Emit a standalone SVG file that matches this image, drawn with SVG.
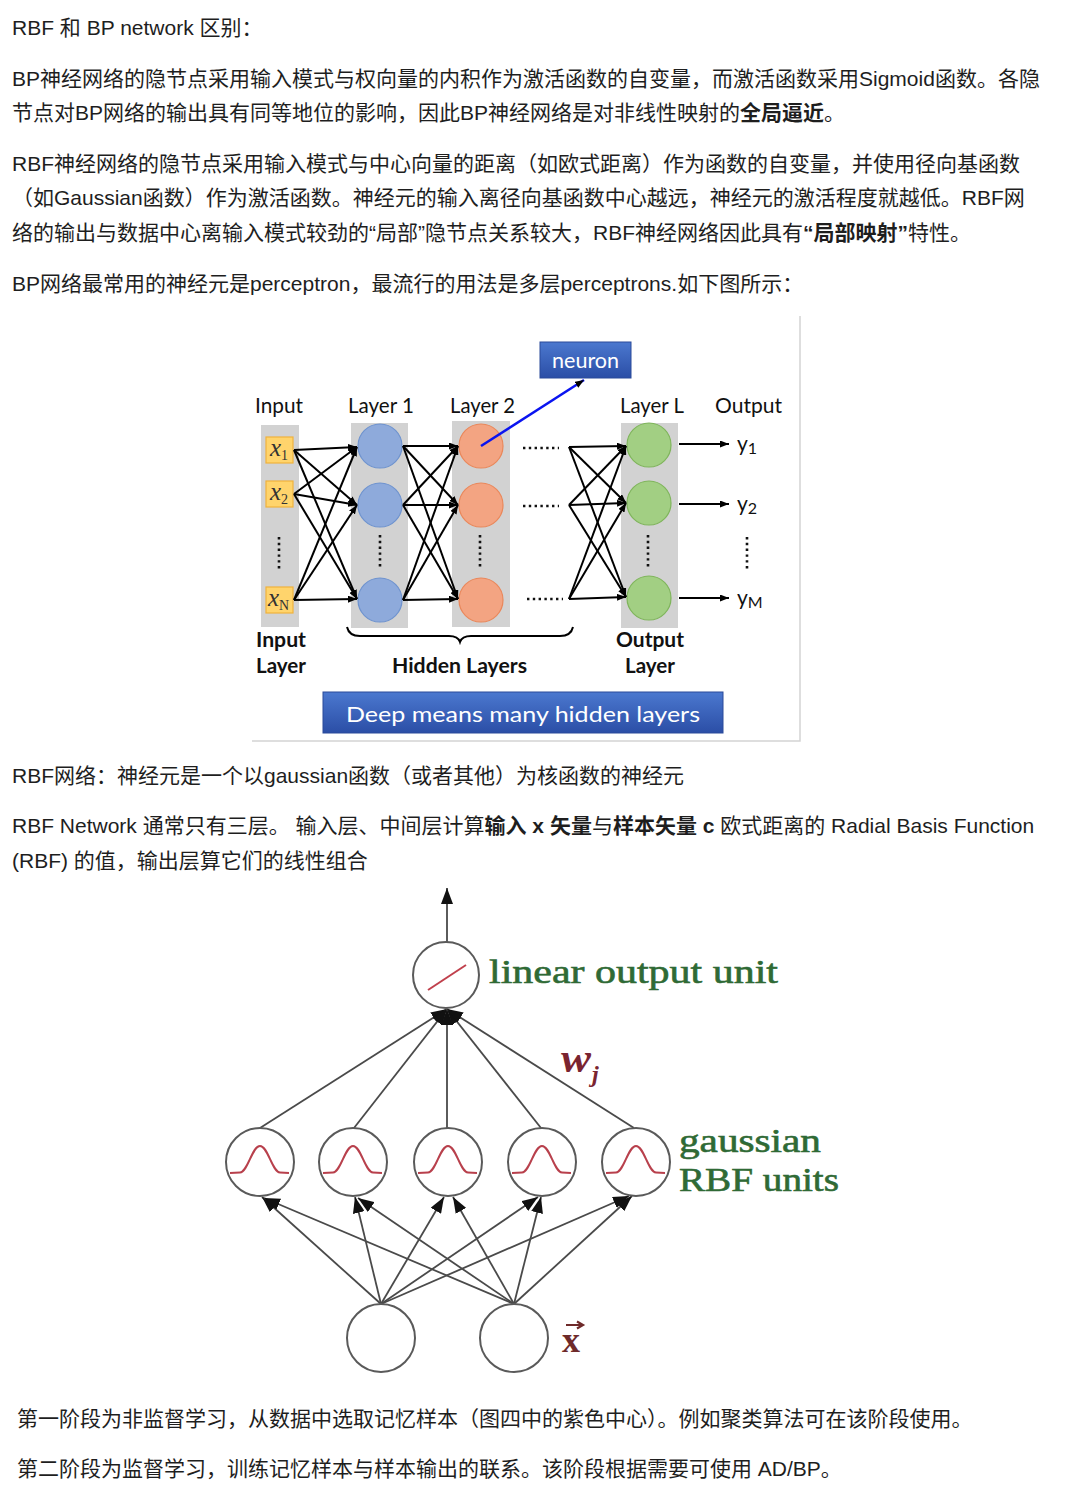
<svg xmlns="http://www.w3.org/2000/svg" width="1078" height="1504" viewBox="0 0 1078 1504">
<style>
.p{font-family:"Liberation Sans","Noto Sans CJK SC",sans-serif;font-size:21px;fill:#1e1e1e}
.b{font-weight:bold}
.cal{font-family:Lato,"Open Sans",sans-serif;font-size:21px;fill:#111}
.calb{font-family:Lato,"Open Sans",sans-serif;font-size:21px;font-weight:bold;fill:#111}
.bar{fill:#d2d2d2}
.inbox{fill:#ffd46c;stroke:#f0b23c;stroke-width:1.2}
.xlab{font-family:"Liberation Serif",serif;font-style:italic;font-size:25px;fill:#333}
.sub{font-family:"Liberation Serif",serif;font-size:14px;fill:#333;font-style:normal}
.blue{fill:#8eaadb;stroke:#6e93cf;stroke-width:1.2}
.orange{fill:#f3a482;stroke:#ea875a;stroke-width:1.2}
.green{fill:#a2cf83;stroke:#7fb55b;stroke-width:1.2}
.bpc line{stroke:#000;stroke-width:2;marker-end:url(#ah)}
.dotv{stroke:#111;stroke-width:2.6;stroke-dasharray:2.4 3.4}
.doth{stroke:#111;stroke-width:2.6;stroke-dasharray:2.4 3.4}
.rc{fill:#fff;stroke:#5a5a5a;stroke-width:2}
.rl line{stroke:#4a4a4a;stroke-width:1.8;marker-end:url(#rah)}
.gl{font-family:"Liberation Serif",serif;font-size:33px;fill:#2f6a35;stroke:#2f6a35;stroke-width:0.6}
</style>
<defs>
<marker id="ah" markerUnits="userSpaceOnUse" markerWidth="9" markerHeight="7" refX="9" refY="3.5" orient="auto"><path d="M0,0 L9,3.5 L0,7 z" fill="#000"/></marker>
<marker id="rah" markerUnits="userSpaceOnUse" markerWidth="16" markerHeight="12" refX="16" refY="6" orient="auto"><path d="M0,0 L16,6 L0,12 z" fill="#111"/></marker>
<linearGradient id="bg" x1="0" y1="0" x2="0" y2="1"><stop offset="0" stop-color="#4b78cf"/><stop offset="1" stop-color="#2b4ea6"/></linearGradient>
<path id="gauss" d="M-30,11 L-20,10.5 C-12,10 -8,-16 0,-16 C8,-16 12,10 20,10.5 L29,11" fill="none" stroke="#b8404c" stroke-width="2"/>
</defs>
<rect width="1078" height="1504" fill="#fff"/>

<!-- paragraphs -->
<text class="p" x="12" y="35">RBF 和 BP network 区别：</text>
<text class="p" x="12" y="86">BP神经网络的隐节点采用输入模式与权向量的内积作为激活函数的自变量，而激活函数采用Sigmoid函数。各隐</text>
<text class="p" x="12" y="120">节点对BP网络的输出具有同等地位的影响，因此BP神经网络是对非线性映射的<tspan class="b">全局逼近</tspan>。</text>
<text class="p" x="12" y="171">RBF神经网络的隐节点采用输入模式与中心向量的距离（如欧式距离）作为函数的自变量，并使用径向基函数</text>
<text class="p" x="12" y="205">（如Gaussian函数）作为激活函数。神经元的输入离径向基函数中心越远，神经元的激活程度就越低。RBF网</text>
<text class="p" x="12" y="240">络的输出与数据中心离输入模式较劲的“局部”隐节点关系较大，RBF神经网络因此具有<tspan class="b">“局部映射”</tspan>特性。</text>
<text class="p" x="12" y="291">BP网络最常用的神经元是perceptron，最流行的用法是多层perceptrons.如下图所示：</text>

<!-- BP figure -->
<g id="bp-figure">
<path d="M252,741 H800 V316" fill="none" stroke="#d4d4d4" stroke-width="1.5"/>
<g id="bars">
<rect class="bar" x="261" y="425" width="38" height="202"/>
<rect class="bar" x="351" y="423" width="57" height="205"/>
<rect class="bar" x="452" y="421" width="58" height="206"/>
<rect class="bar" x="621" y="423" width="57" height="205"/>
</g>
<g id="labels-top">
<text class="cal" x="255" y="413" textLength="48" lengthAdjust="spacingAndGlyphs">Input</text>
<text class="cal" x="348" y="413" textLength="66" lengthAdjust="spacingAndGlyphs">Layer 1</text>
<text class="cal" x="450" y="413" textLength="65" lengthAdjust="spacingAndGlyphs">Layer 2</text>
<text class="cal" x="620" y="413" textLength="64" lengthAdjust="spacingAndGlyphs">Layer L</text>
<text class="cal" x="715" y="413" textLength="67" lengthAdjust="spacingAndGlyphs">Output</text>
</g>
<g id="input-x1"><rect class="inbox" x="266" y="437" width="27" height="26"/><text class="xlab" x="270" y="456">x<tspan class="sub" dy="4">1</tspan></text></g>
<g id="input-x2"><rect class="inbox" x="266" y="481" width="27" height="26"/><text class="xlab" x="270" y="500">x<tspan class="sub" dy="4">2</tspan></text></g>
<g id="input-xN"><rect class="inbox" x="266" y="587" width="27" height="26"/><text class="xlab" x="268" y="606">x<tspan class="sub" dy="4" font-size="12">N</tspan></text></g>
<g id="layer1">
<circle class="blue" cx="380" cy="446" r="22"/>
<circle class="blue" cx="380" cy="505" r="22"/>
<circle class="blue" cx="380" cy="600" r="22"/>
</g>
<g id="layer2">
<circle class="orange" cx="481" cy="446" r="22"/>
<circle class="orange" cx="481" cy="505" r="22"/>
<circle class="orange" cx="481" cy="600" r="22"/>
</g>
<g id="layerL">
<circle class="green" cx="649" cy="445" r="22"/>
<circle class="green" cx="649" cy="503" r="22"/>
<circle class="green" cx="649" cy="598" r="22"/>
</g>
<g id="dots">
<line class="dotv" x1="279" y1="537" x2="279" y2="571"/>
<line class="dotv" x1="380" y1="535" x2="380" y2="569"/>
<line class="dotv" x1="480" y1="535" x2="480" y2="569"/>
<line class="dotv" x1="648" y1="535" x2="648" y2="569"/>
<line class="dotv" x1="747" y1="537" x2="747" y2="571"/>
<line class="doth" x1="523" y1="448" x2="559" y2="448"/>
<line class="doth" x1="523" y1="506" x2="559" y2="506"/>
<line class="doth" x1="527" y1="599" x2="563" y2="599"/>
</g>
<g id="bp-connectors" class="bpc">
<line x1="294" y1="450" x2="357" y2="447"/><line x1="294" y1="450" x2="357" y2="505"/><line x1="294" y1="450" x2="357" y2="599"/>
<line x1="294" y1="494" x2="357" y2="447"/><line x1="294" y1="494" x2="357" y2="505"/><line x1="294" y1="494" x2="357" y2="599"/>
<line x1="294" y1="600" x2="357" y2="447"/><line x1="294" y1="600" x2="357" y2="505"/><line x1="294" y1="600" x2="357" y2="599"/>
<line x1="403" y1="446" x2="458" y2="446"/><line x1="403" y1="446" x2="458" y2="505"/><line x1="403" y1="446" x2="458" y2="599"/>
<line x1="403" y1="505" x2="458" y2="446"/><line x1="403" y1="505" x2="458" y2="505"/><line x1="403" y1="505" x2="458" y2="599"/>
<line x1="403" y1="600" x2="458" y2="446"/><line x1="403" y1="600" x2="458" y2="505"/><line x1="403" y1="600" x2="458" y2="599"/>
<line x1="569" y1="447" x2="626" y2="446"/><line x1="569" y1="447" x2="626" y2="503"/><line x1="569" y1="447" x2="626" y2="597"/>
<line x1="569" y1="505" x2="626" y2="446"/><line x1="569" y1="505" x2="626" y2="503"/><line x1="569" y1="505" x2="626" y2="597"/>
<line x1="569" y1="599" x2="626" y2="446"/><line x1="569" y1="599" x2="626" y2="503"/><line x1="569" y1="599" x2="626" y2="597"/>
<line x1="679" y1="444" x2="729" y2="444"/><line x1="679" y1="504" x2="729" y2="504"/><line x1="679" y1="598" x2="729" y2="598"/>
</g>
<g id="outputs">
<text class="cal" x="737" y="451" font-size="24">y<tspan font-size="16" dy="3">1</tspan></text>
<text class="cal" x="737" y="511" font-size="24">y<tspan font-size="16" dy="3">2</tspan></text>
<text class="cal" x="737" y="605" font-size="24">y<tspan font-size="16" dy="3">M</tspan></text>
</g>
<g id="labels-bottom">
<text class="calb" x="256" y="647" textLength="50" lengthAdjust="spacingAndGlyphs">Input</text>
<text class="calb" x="256" y="673" textLength="50" lengthAdjust="spacingAndGlyphs">Layer</text>
<text class="calb" x="392" y="673" textLength="135" lengthAdjust="spacingAndGlyphs">Hidden Layers</text>
<text class="calb" x="616" y="647" textLength="68" lengthAdjust="spacingAndGlyphs">Output</text>
<text class="calb" x="625" y="673" textLength="50" lengthAdjust="spacingAndGlyphs">Layer</text>
<path d="M347,627 Q349,636 360,636 L449,636 Q458,636 460,642 Q462,636 471,636 L560,636 Q571,636 573,627" fill="none" stroke="#000" stroke-width="2"/>
</g>
<g id="neuron">
<rect x="540" y="342" width="91" height="36" fill="url(#bg)" stroke="#2a4a9a" stroke-width="1"/>
<text class="cal" x="552" y="368" font-size="22" style="fill:#fff" textLength="67" lengthAdjust="spacingAndGlyphs">neuron</text>
</g>
<line id="neuron-pointer" x1="481" y1="446" x2="584" y2="380" stroke="#0a14f0" stroke-width="2.5" marker-end="url(#ah)"/>
<g id="deep-banner">
<rect x="323" y="692" width="400" height="41" fill="url(#bg)" stroke="#2a4a9a" stroke-width="1"/>
<text class="cal" x="346" y="722" font-size="24" style="fill:#fff" textLength="354" lengthAdjust="spacingAndGlyphs">Deep means many hidden layers</text>
</g>
</g>

<text class="p" x="12" y="783">RBF网络：神经元是一个以gaussian函数（或者其他）为核函数的神经元</text>
<text class="p" x="12" y="833">RBF Network 通常只有三层。 输入层、中间层计算<tspan class="b">输入 x 矢量</tspan>与<tspan class="b">样本矢量 c</tspan> 欧式距离的 Radial Basis Function</text>
<text class="p" x="12" y="868">(RBF) 的值，输出层算它们的线性组合</text>

<!-- RBF figure -->
<g id="rbf-figure">
<g id="rbf-connectors" class="rl">
<line x1="447" y1="943" x2="447" y2="888"/>
<line x1="260" y1="1128" x2="447" y2="1009"/>
<line x1="354" y1="1128" x2="447" y2="1009"/>
<line x1="447" y1="1128" x2="447" y2="1009"/>
<line x1="541" y1="1128" x2="447" y2="1009"/>
<line x1="634" y1="1128" x2="447" y2="1009"/>
<line x1="381" y1="1304" x2="262" y2="1197"/>
<line x1="381" y1="1304" x2="355" y2="1197"/>
<line x1="381" y1="1304" x2="444" y2="1197"/>
<line x1="381" y1="1304" x2="538" y2="1197"/>
<line x1="381" y1="1304" x2="629" y2="1196"/>
<line x1="514" y1="1304" x2="264" y2="1198"/>
<line x1="514" y1="1304" x2="358" y2="1198"/>
<line x1="514" y1="1304" x2="453" y2="1197"/>
<line x1="514" y1="1304" x2="541" y2="1197"/>
<line x1="514" y1="1304" x2="632" y2="1196"/>
</g>
<g id="linear-output-unit">
<circle class="rc" cx="446" cy="975" r="33"/>
<line x1="428" y1="990" x2="466" y2="965" stroke="#c0404c" stroke-width="2"/>
<text class="gl" x="489" y="983" textLength="289" lengthAdjust="spacingAndGlyphs">linear output unit</text>
</g>
<g id="gaussian-1"><circle class="rc" cx="260" cy="1162" r="34"/><use href="#gauss" x="260" y="1162"/></g>
<g id="gaussian-2"><circle class="rc" cx="353" cy="1162" r="34"/><use href="#gauss" x="353" y="1162"/></g>
<g id="gaussian-3"><circle class="rc" cx="448" cy="1162" r="34"/><use href="#gauss" x="448" y="1162"/></g>
<g id="gaussian-4"><circle class="rc" cx="542" cy="1162" r="34"/><use href="#gauss" x="542" y="1162"/></g>
<g id="gaussian-5"><circle class="rc" cx="636" cy="1162" r="34"/><use href="#gauss" x="636" y="1162"/></g>
<g id="gaussian-label">
<text class="gl" x="679" y="1152" textLength="142" lengthAdjust="spacingAndGlyphs">gaussian</text>
<text class="gl" x="679" y="1191" textLength="160" lengthAdjust="spacingAndGlyphs">RBF units</text>
</g>
<g id="wj-label">
<text x="561" y="1072" font-family="Liberation Serif,serif" font-style="italic" font-weight="bold" font-size="40" fill="#7a2430" textLength="30" lengthAdjust="spacingAndGlyphs">w</text>
<text x="592" y="1082" font-family="Liberation Serif,serif" font-style="italic" font-weight="bold" font-size="24" fill="#7a2430">j</text>
</g>
<g id="input-1"><circle class="rc" cx="381" cy="1338" r="34"/></g>
<g id="input-2"><circle class="rc" cx="514" cy="1338" r="34"/></g>
<g id="x-label">
<text x="562" y="1352" font-family="Liberation Serif,serif" font-weight="bold" font-size="36" fill="#6e2a2a">x</text>
<path d="M566,1325 H582 M577,1321.5 L583,1325 L577,1328.5" fill="none" stroke="#6e2a2a" stroke-width="2.2"/>
</g>
</g>

<text class="p" x="17" y="1426">第一阶段为非监督学习，从数据中选取记忆样本（图四中的紫色中心）。例如聚类算法可在该阶段使用。</text>
<text class="p" x="17" y="1476">第二阶段为监督学习，训练记忆样本与样本输出的联系。该阶段根据需要可使用 AD/BP。</text>
</svg>
